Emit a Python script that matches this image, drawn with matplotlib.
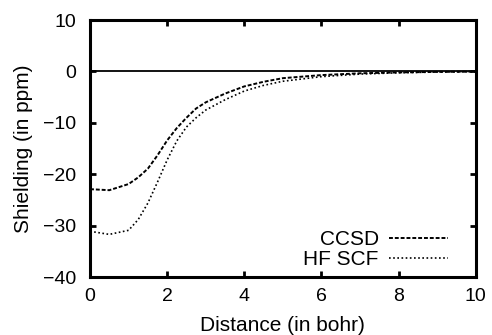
import matplotlib
matplotlib.use("Agg")
import matplotlib.pyplot as plt

# Shielding vs distance
distance = [0, 0.5, 1.0, 1.25, 1.5, 1.75, 2.0, 2.25, 2.5, 2.75, 3.0, 3.5,
            4.0, 4.5, 5, 6, 7, 8, 9, 10]
ccsd = [-22.9, -23.1, -21.9, -20.6, -18.9, -16.3, -13.4, -11.0, -9.0, -7.2,
        -6.0, -4.3, -2.9, -2.0, -1.3, -0.7, -0.35, -0.18, -0.08, -0.03]
hf_scf = [-31.1, -31.7, -30.9, -28.8, -25.6, -21.5, -17.2, -13.5, -10.8,
          -9.0, -7.5, -5.5, -3.8, -2.7, -1.9, -1.0, -0.5, -0.25, -0.1, -0.04]

plt.rcParams["font.family"] = ["Liberation Sans", "DejaVu Sans"]
plt.rcParams["font.size"] = 15

fig = plt.figure(figsize=(4.92, 3.35), dpi=100)
ax = fig.add_axes([0.183, 0.173, 0.784, 0.767])

ax.axhline(0, color="black", lw=1.3)
ax.plot(distance, ccsd, color="black", lw=1.4, linestyle=(0, (2, 1)), label="CCSD")
ax.plot(distance, hf_scf, color="black", lw=1.2, linestyle=(0, (1, 1.5)), label="HF SCF")

ax.set_xlim(0, 10)
ax.set_ylim(-40, 10)
ax.set_xticks([0, 2, 4, 6, 8, 10])
ax.set_yticks([10, 0, -10, -20, -30, -40])
ax.set_xlabel("Distance (in bohr)", labelpad=8)
ax.set_ylabel("Shielding (in ppm)", labelpad=7)

for s in ax.spines.values():
    s.set_linewidth(2.2)
ax.tick_params(direction="in", length=4, width=2, top=True, right=True,
               labelsize=14)
ax.tick_params(axis="x", pad=8)
ax.tick_params(axis="y", pad=10)

leg = ax.legend(loc="lower right", bbox_to_anchor=(0.927, 0.03), frameon=False,
                markerfirst=False, handlelength=2.8, handletextpad=0.5,
                labelspacing=0.05, borderpad=0, borderaxespad=0)

plt.savefig("out.png", dpi=100)
